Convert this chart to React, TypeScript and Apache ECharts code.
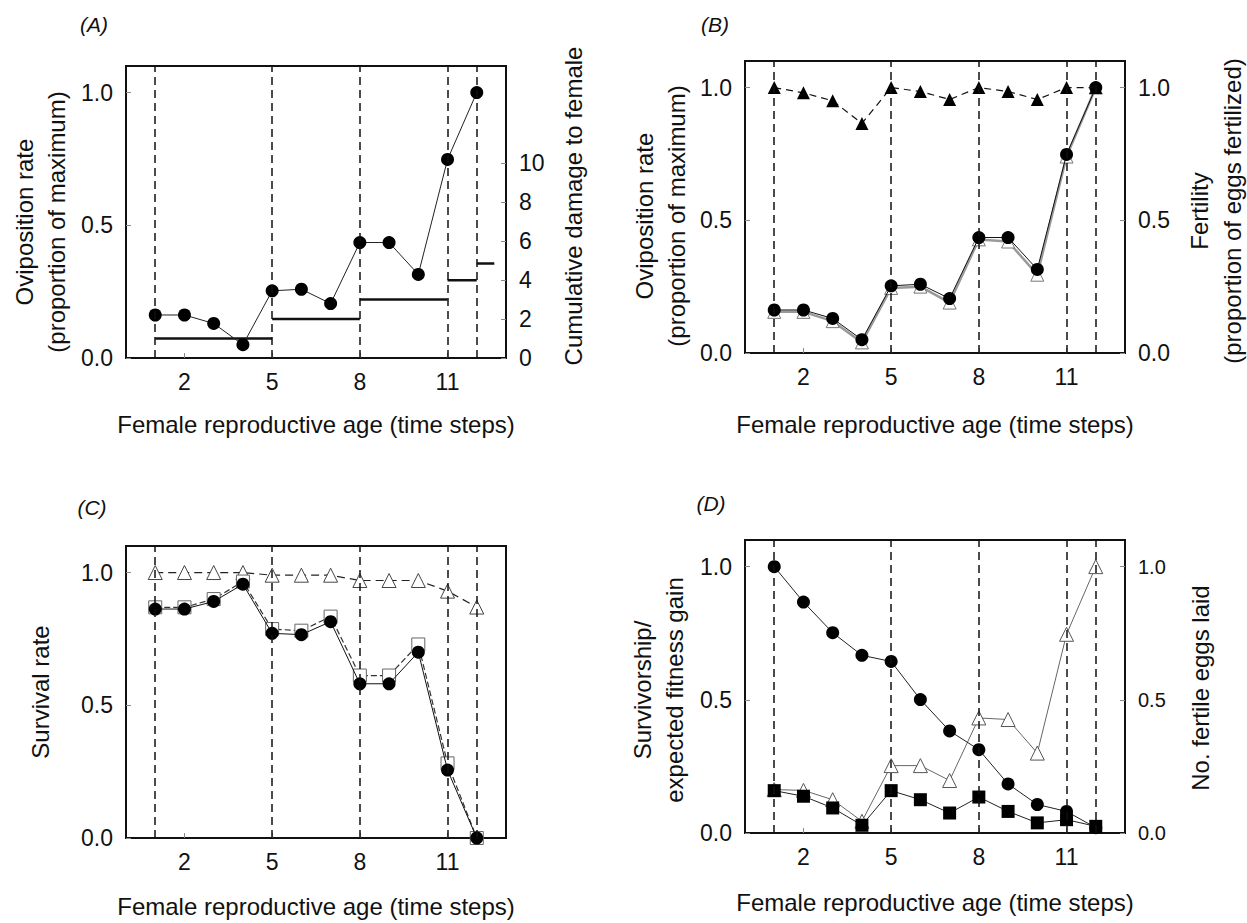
import React, { useEffect, useRef } from "react";
import * as echarts from "echarts";

// ---- data ----
const ages = [1, 2, 3, 4, 5, 6, 7, 8, 9, 10, 11, 12];
const matingTimes = [1, 5, 8, 11, 12];
const xTicks = [2, 5, 8, 11];
const propTicks = [0, 0.5, 1];
const damageTicks = [0, 2, 4, 6, 8, 10];

// (A)
const ovipositionRate = [0.162, 0.162, 0.13, 0.05, 0.253, 0.259, 0.205, 0.435, 0.435, 0.315, 0.748, 1.0];
const damageStart = [1, 5, 8, 11, 12];
const damageEnd = [5, 8, 11, 12, 12.6];
const damageLevel = [1, 2, 3, 4, 4.85];

// (B)
const fertility = [1.0, 0.98, 0.95, 0.865, 1.0, 0.985, 0.955, 1.0, 0.985, 0.955, 1.0, 1.0];
const fertileOviposition = [0.155, 0.155, 0.12, 0.04, 0.245, 0.25, 0.19, 0.428, 0.42, 0.295, 0.74, 1.0];

// (C)
const survivalTriangles = [1.0, 1.0, 1.0, 1.0, 0.99, 0.99, 0.99, 0.97, 0.97, 0.97, 0.93, 0.87];
const survivalSquares = [0.869, 0.869, 0.9, 0.966, 0.787, 0.781, 0.834, 0.612, 0.612, 0.729, 0.281, 0.0];
const survivalCircles = [0.8625, 0.8625, 0.891, 0.956, 0.771, 0.766, 0.815, 0.581, 0.581, 0.7, 0.256, 0.0];

// (D)
const survivorship = [1.0, 0.867, 0.752, 0.667, 0.644, 0.501, 0.383, 0.313, 0.184, 0.107, 0.081, 0.02];
const fitnessGain = [0.159, 0.138, 0.094, 0.029, 0.159, 0.125, 0.075, 0.135, 0.081, 0.038, 0.05, 0.025];
const fertileEggs = [0.163, 0.16, 0.125, 0.044, 0.253, 0.253, 0.197, 0.432, 0.426, 0.3, 0.746, 1.0];

const FONT = "'Liberation Sans', Arial, Helvetica, sans-serif";

const grids = [
  { left: 126, top: 66, width: 380, height: 292 },
  { left: 745, top: 61, width: 380, height: 292 },
  { left: 126, top: 546, width: 380, height: 292 },
  { left: 745, top: 540, width: 380, height: 293 },
];

function pairs(ys: number[]) {
  return ages.map((a, i) => [a, ys[i]]);
}

const markLineDef = {
  silent: true,
  symbol: ["none", "none"],
  label: { show: false },
  lineStyle: { type: [8, 5], color: "#111", width: 1.5 },
  data: matingTimes.map((t) => ({ xAxis: t })),
};

function buildOption() {
  const xAxes = grids.map((_, i) => ({
    type: "value",
    gridIndex: i,
    min: 0,
    max: 13,
    axisLine: { show: true, lineStyle: { color: "#111", width: 2 } },
    axisTick: { show: true, inside: true, length: 5, customValues: xTicks, lineStyle: { color: "#888" } },
    axisLabel: { customValues: xTicks, color: "#111", fontSize: 23, fontFamily: FONT, margin: 12 },
    splitLine: { show: false },
  }));

  const yAxes: any[] = [];
  grids.forEach((_, i) => {
    yAxes.push({
      type: "value",
      gridIndex: i,
      position: "left",
      min: 0,
      max: 1.1,
      axisLine: { show: true, lineStyle: { color: "#111", width: 2 } },
      axisTick: { show: true, inside: true, length: 5, customValues: propTicks, lineStyle: { color: "#888" } },
      axisLabel: {
        customValues: propTicks,
        formatter: (v: number) => v.toFixed(1),
        color: "#111",
        fontSize: 23,
        fontFamily: FONT,
        margin: 13,
      },
      splitLine: { show: false },
    });
    const isA = i === 0;
    const ticks = isA ? damageTicks : propTicks;
    yAxes.push({
      type: "value",
      gridIndex: i,
      position: "right",
      min: 0,
      max: isA ? 15 : 1.1,
      axisLine: { show: true, lineStyle: { color: "#111", width: 2 } },
      axisTick: { show: i !== 2, inside: true, length: 5, customValues: ticks, lineStyle: { color: "#888" } },
      axisLabel: {
        show: i !== 2,
        customValues: ticks,
        formatter: (v: number) => (isA ? String(v) : v.toFixed(1)),
        color: "#111",
        fontSize: i === 3 ? 20 : 23,
        fontFamily: FONT,
        margin: 13,
      },
      splitLine: { show: false },
    });
  });

  const series: any[] = [];

  // (A) damage steps on right axis
  damageStart.forEach((s, k) => {
    series.push({
      type: "line",
      xAxisIndex: 0,
      yAxisIndex: 1,
      data: [
        [s, damageLevel[k]],
        [damageEnd[k], damageLevel[k]],
      ],
      symbol: "none",
      lineStyle: { color: "#111", width: 2.5 },
      z: 2,
      ...(k === 0 ? { markLine: markLineDef } : {}),
    });
  });
  series.push({
    type: "line",
    xAxisIndex: 0,
    yAxisIndex: 0,
    data: pairs(ovipositionRate),
    symbol: "circle",
    symbolSize: 13,
    itemStyle: { color: "#000" },
    lineStyle: { color: "#222", width: 1 },
    z: 3,
  });

  // (B)
  series.push({
    type: "line",
    xAxisIndex: 1,
    yAxisIndex: 3,
    data: pairs(fertileOviposition),
    symbol: "triangle",
    symbolSize: 13,
    itemStyle: { color: "#fff", borderColor: "#777", borderWidth: 1 },
    lineStyle: { color: "#999", width: 2.5 },
    z: 2,
    markLine: markLineDef,
  });
  series.push({
    type: "line",
    xAxisIndex: 1,
    yAxisIndex: 2,
    data: pairs(ovipositionRate),
    symbol: "circle",
    symbolSize: 13,
    itemStyle: { color: "#000" },
    lineStyle: { color: "#111", width: 1 },
    z: 3,
  });
  series.push({
    type: "line",
    xAxisIndex: 1,
    yAxisIndex: 3,
    data: pairs(fertility),
    symbol: "triangle",
    symbolSize: 13,
    itemStyle: { color: "#000" },
    lineStyle: { color: "#111", width: 1.2, type: [7, 5] },
    z: 4,
  });

  // (C)
  series.push({
    type: "line",
    xAxisIndex: 2,
    yAxisIndex: 4,
    data: pairs(survivalTriangles),
    symbol: "triangle",
    symbolSize: 14,
    itemStyle: { color: "#fff", borderColor: "#444", borderWidth: 1 },
    lineStyle: { color: "#222", width: 1.2, type: [8, 5] },
    z: 2,
    markLine: markLineDef,
  });
  series.push({
    type: "line",
    xAxisIndex: 2,
    yAxisIndex: 4,
    data: pairs(survivalSquares),
    symbol: "rect",
    symbolSize: 13,
    itemStyle: { color: "#fff", borderColor: "#666", borderWidth: 1 },
    lineStyle: { color: "#333", width: 1.2, type: [6, 3] },
    z: 3,
  });
  series.push({
    type: "line",
    xAxisIndex: 2,
    yAxisIndex: 4,
    data: pairs(survivalCircles),
    symbol: "circle",
    symbolSize: 13,
    itemStyle: { color: "#000" },
    lineStyle: { color: "#111", width: 1 },
    z: 4,
  });

  // (D)
  series.push({
    type: "line",
    xAxisIndex: 3,
    yAxisIndex: 7,
    data: pairs(fertileEggs),
    symbol: "triangle",
    symbolSize: 14,
    itemStyle: { color: "#fff", borderColor: "#555", borderWidth: 1 },
    lineStyle: { color: "#666", width: 1 },
    z: 2,
    markLine: markLineDef,
  });
  series.push({
    type: "line",
    xAxisIndex: 3,
    yAxisIndex: 6,
    data: pairs(fitnessGain),
    symbol: "rect",
    symbolSize: 13,
    itemStyle: { color: "#000" },
    lineStyle: { color: "#222", width: 1 },
    z: 3,
  });
  series.push({
    type: "line",
    xAxisIndex: 3,
    yAxisIndex: 6,
    data: pairs(survivorship),
    symbol: "circle",
    symbolSize: 13,
    itemStyle: { color: "#000" },
    lineStyle: { color: "#222", width: 1 },
    z: 4,
  });

  const titleStyle = (text: string, lh = 32) => ({
    text,
    fontSize: 24,
    fontFamily: FONT,
    fill: "#111",
    align: "center",
    verticalAlign: "middle",
    lineHeight: lh,
  });
  const vText = (x: number, y: number, text: string, lh = 32) => ({
    type: "text",
    x,
    y,
    rotation: Math.PI / 2,
    style: titleStyle(text, lh),
  });
  const hText = (x: number, y: number, text: string) => ({
    type: "text",
    x,
    y,
    style: titleStyle(text),
  });
  const panelLabel = (x: number, y: number, text: string) => ({
    type: "text",
    x,
    y,
    style: {
      text,
      fontSize: 21,
      fontStyle: "italic",
      fontFamily: FONT,
      fill: "#111",
      align: "center",
      verticalAlign: "middle",
    },
  });

  const xTitle = "Female reproductive age (time steps)";
  const graphic = [
    panelLabel(94, 24, "(A)"),
    panelLabel(715, 24, "(B)"),
    panelLabel(92, 507, "(C)"),
    panelLabel(711, 503, "(D)"),
    vText(40, 222, "Oviposition rate\n(proportion of maximum)"),
    vText(573, 206, "Cumulative damage to female"),
    hText(316, 424, xTitle),
    vText(660, 216, "Oviposition rate\n(proportion of maximum)"),
    vText(1216, 211, "Fertility\n(proportion of eggs fertilized)", 33),
    hText(935, 424, xTitle),
    vText(40, 692, "Survival rate"),
    hText(316, 906, xTitle),
    vText(658, 690, "Survivorship/\nexpected fitness gain"),
    vText(1200, 688, "No. fertile eggs laid"),
    hText(935, 902, xTitle),
  ];

  return {
    animation: false,
    backgroundColor: "#fff",
    textStyle: { fontFamily: FONT },
    grid: grids.map((g) => ({ ...g, show: true, borderColor: "#111", borderWidth: 2, backgroundColor: "transparent" })),
    xAxis: xAxes,
    yAxis: yAxes,
    series,
    graphic,
  };
}

export default function App() {
  const ref = useRef<HTMLDivElement>(null);
  useEffect(() => {
    document.body.style.margin = "0";
    if (!ref.current) return;
    const chart = echarts.init(ref.current, undefined, { renderer: "svg" });
    chart.setOption(buildOption() as any);
    return () => chart.dispose();
  }, []);
  return <div ref={ref} style={{ width: 1247, height: 923 }} />;
}
